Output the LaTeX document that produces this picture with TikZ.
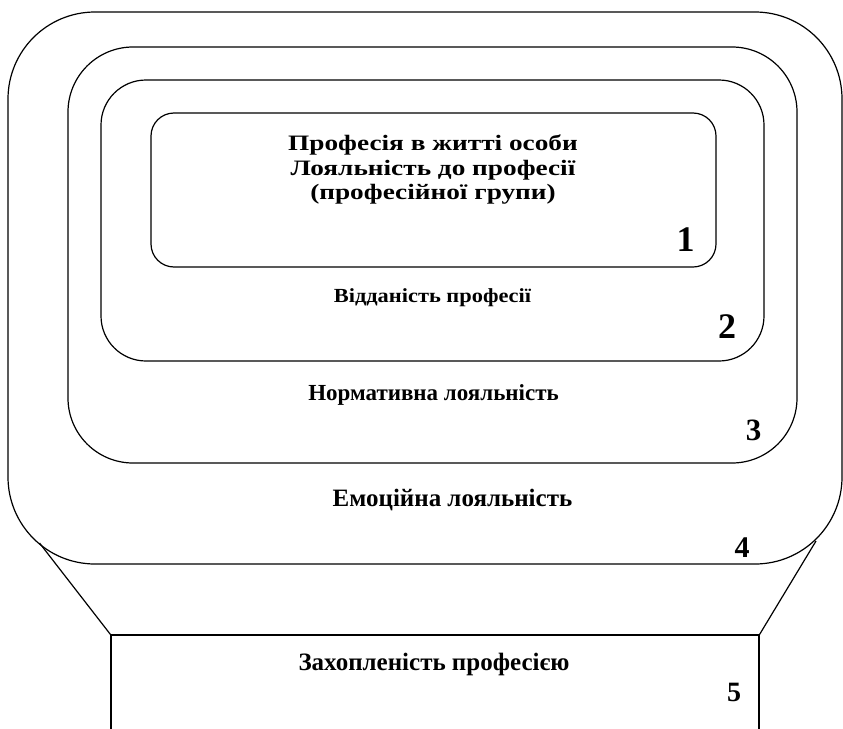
\documentclass[tikz,border=0pt]{standalone}
\usepackage{graphicx}
\usepackage{fontspec}
\setmainfont{Liberation Serif}
\begin{document}
\begin{tikzpicture}[x=1pt,y=-1pt,
  box/.style={draw, line width=1.2pt, inner sep=0pt, rounded corners=#1},
  lbl/.style={inner sep=0pt, anchor=base},
  edge/.style={line width=1.2pt}]
\useasboundingbox (0,0) rectangle (843,728);
% nested rounded boxes
\node[box=87pt, minimum width=834pt, minimum height=552pt] (b4) at (425,288) {};
\node[box=65pt, minimum width=729pt, minimum height=416pt] (b3) at (432.5,255) {};
\node[box=45pt, minimum width=663pt, minimum height=281pt] (b2) at (432.5,220.5) {};
\node[box=23pt, minimum width=565pt, minimum height=154pt] (b1) at (433.5,190) {};
% bottom box (open below)
\node[draw, line width=1.2pt, inner sep=0pt, minimum width=648pt, minimum height=140pt] (b5) at (435,705) {};
\coordinate (c4l) at (39.5,543);
\coordinate (c4r) at (816,541);
\draw[edge] (c4l) -- (b5.north west);
\draw[edge] (c4r) -- (b5.north east);
% texts
\node[lbl, font=\bfseries\fontsize{22}{24}\selectfont] (t1a) at (433,150.5) {\scalebox{1.24}[1]{Професія в житті особи}};
\node[lbl, font=\bfseries\fontsize{22}{24}\selectfont] (t1b) at (433,175) {\scalebox{1.24}[1]{Лояльність до професії}};
\node[lbl, font=\bfseries\fontsize{22}{24}\selectfont] (t1c) at (433,199.5) {\scalebox{1.24}[1]{(професійної групи)}};
\node[lbl, font=\bfseries\fontsize{36}{36}\selectfont] (n1) at (685.5,251) {1};
\node[lbl, font=\bfseries\fontsize{20}{20}\selectfont] (t2) at (432.5,302) {\scalebox{1.12}[1]{Відданість професії}};
\node[lbl, font=\bfseries\fontsize{36}{36}\selectfont] (n2) at (727,338) {2};
\node[lbl, font=\bfseries\fontsize{23}{23}\selectfont] (t3) at (433.5,400) {Нормативна лояльність};
\node[lbl, font=\bfseries\fontsize{31}{31}\selectfont] (n3) at (753.5,440) {3};
\node[lbl, font=\bfseries\fontsize{25}{25}\selectfont] (t4) at (452.5,506) {Емоційна лояльність};
\node[lbl, font=\bfseries\fontsize{30}{30}\selectfont] (n4) at (742,557) {4};
\node[lbl, font=\bfseries\fontsize{25}{25}\selectfont] (t5) at (434,670) {Захопленість професією};
\node[lbl, font=\bfseries\fontsize{28}{28}\selectfont] (n5) at (734,701) {5};
\end{tikzpicture}
\end{document}
